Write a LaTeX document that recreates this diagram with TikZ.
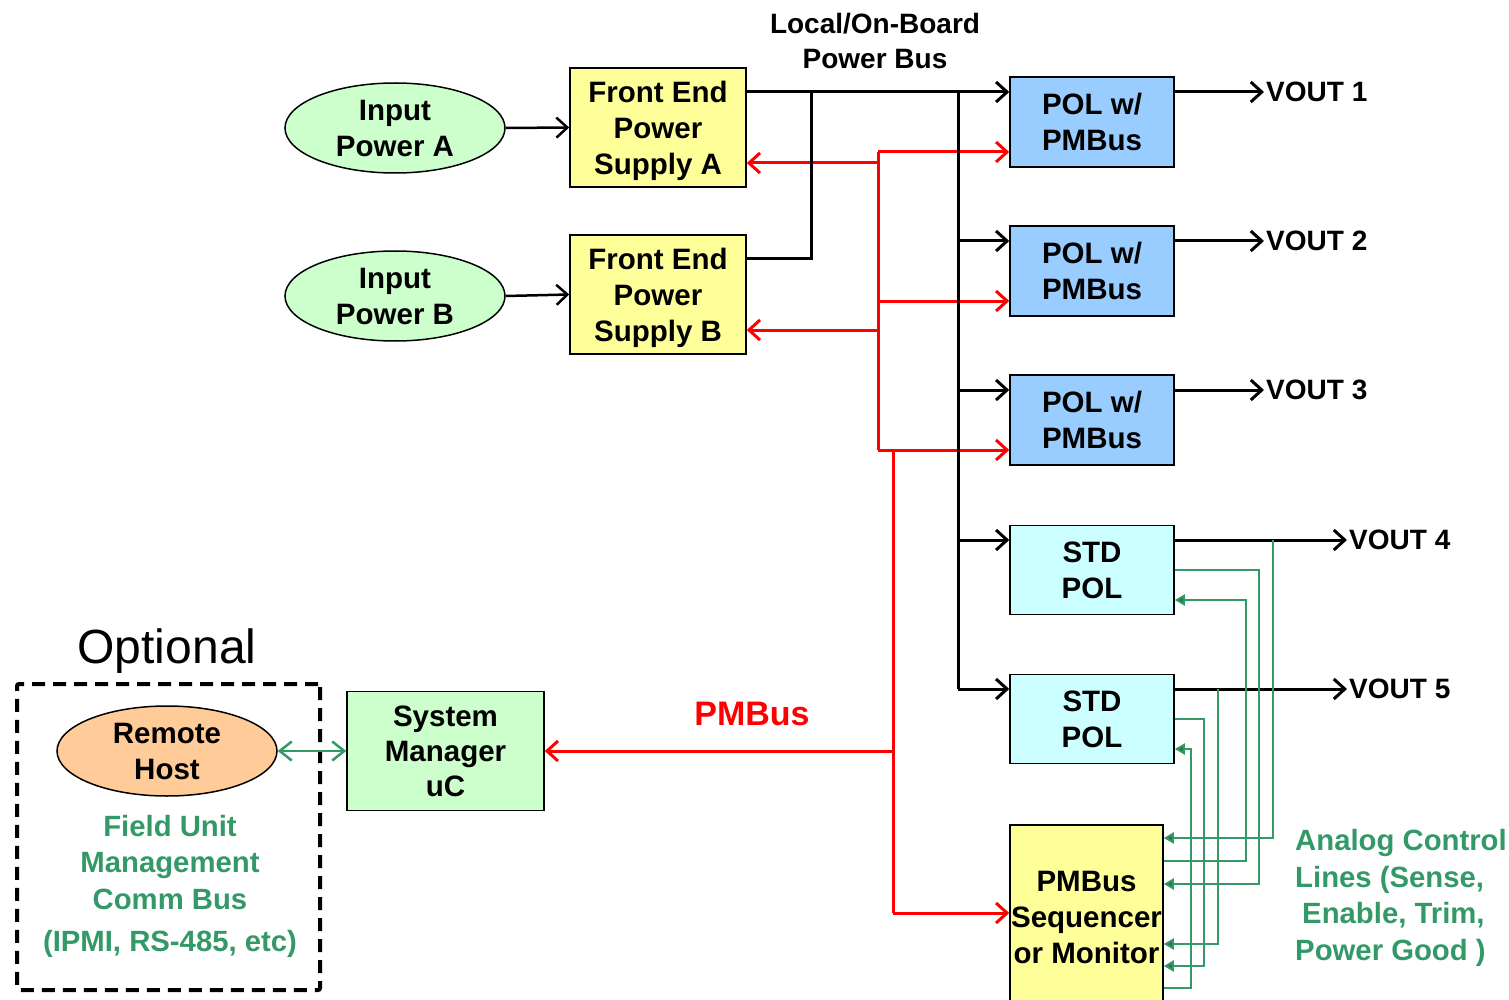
\documentclass[tikz,border=0pt]{standalone}
\usepackage{fontspec}
\setmainfont{Liberation Sans}
\usetikzlibrary{arrows.meta,shapes.geometric}
\definecolor{lgreen}{HTML}{CCFFCC}
\definecolor{lyellow}{HTML}{FFFF99}
\definecolor{lblue}{HTML}{99CCFF}
\definecolor{lcyan}{HTML}{CCFFFF}
\definecolor{lorange}{HTML}{FFCC99}
\definecolor{gline}{HTML}{339966}
\begin{document}
\begin{tikzpicture}[x=1pt,y=-1pt,
  box/.style={draw=black, line width=1.5pt, align=center, inner sep=0pt,
    font=\bfseries\fontsize{29.5}{36}\selectfont},
  ell/.style={box, ellipse, inner sep=-4pt},
  lbl/.style={align=center, inner sep=2pt, font=\bfseries\fontsize{28}{36}\selectfont},
  glbl/.style={lbl, text=gline, font=\bfseries\fontsize{29.3}{36.5}\selectfont},
  blk/.style={line width=3pt, black},
  rd/.style={line width=3pt, red},
  arr/.style={-{Straight Barb[length=11pt,width=20pt]}},
  gr/.style={line width=2pt, gline},
  garr/.style={-{Triangle[length=10pt,width=11pt,fill=gline!75!black]}},
]
\useasboundingbox (0,0) rectangle (1509,1000);

% nodes
\node[ell, fill=lgreen, minimum width=220pt, minimum height=90pt] (inA) at (395,128) {Input\\Power A};
\node[ell, fill=lgreen, minimum width=220pt, minimum height=90pt] (inB) at (395,296) {Input\\Power B};
\node[box, fill=lyellow, minimum width=176pt, minimum height=119pt, text depth=0pt] (feA) at (658,127.5) {Front End\\Power\\Supply A};
\node[box, fill=lyellow, minimum width=176pt, minimum height=119pt, text depth=0pt] (feB) at (658,294.5) {Front End\\Power\\Supply B};
\node[box, fill=lblue, minimum width=164pt, minimum height=90pt] (pol1) at (1092,122) {POL w/\\PMBus};
\node[box, fill=lblue, minimum width=164pt, minimum height=90pt] (pol2) at (1092,271) {POL w/\\PMBus};
\node[box, fill=lblue, minimum width=164pt, minimum height=90pt] (pol3) at (1092,420) {POL w/\\PMBus};
\node[box, fill=lcyan, minimum width=164pt, minimum height=89pt] (std1) at (1092,570) {STD\\POL};
\node[box, fill=lcyan, minimum width=164pt, minimum height=89pt] (std2) at (1092,719) {STD\\POL};
\node[box, fill=lyellow, minimum width=153pt, minimum height=184pt] (seq) at (1086.5,917) {PMBus\\Sequencer\\or Monitor};
\node[box, fill=lgreen, minimum width=197pt, minimum height=119pt, font=\bfseries\fontsize{29.5}{35}\selectfont] (sysm) at (445.5,751) {System\\Manager\\uC};
\node[draw=black, line width=4pt, dash pattern=on 13pt off 8pt, rounded corners=2pt,
  minimum width=303pt, minimum height=306pt, inner sep=0pt] (opt) at (168.5,837) {};
\node[ell, fill=lorange, minimum width=220pt, minimum height=90pt] (host) at (167,751) {Remote\\Host};

% labels
\node[lbl, font=\bfseries\fontsize{28}{35}\selectfont] (busl) at (875,41) {Local/On-Board\\Power Bus};
\node[lbl, text=red, font=\bfseries\fontsize{34}{36}\selectfont] (pmbl) at (752,714) {PMBus};
\node[lbl, font=\fontsize{48}{50}\selectfont] (optl) at (167,651) {Optional};
\node[glbl] (fieldl) at (170,886) {Field Unit\\Management\\Comm Bus\\[5.5pt](IPMI, RS-485, etc)};
\node[glbl, anchor=west, align=left] (anal) at (1293,898) {Analog Control\\Lines (Sense,\\\hspace*{7pt}Enable, Trim,\\Power Good )};
\node[lbl, anchor=west] (v1) at (1264,92) {VOUT 1};
\node[lbl, anchor=west] (v2) at (1264,241) {VOUT 2};
\node[lbl, anchor=west] (v3) at (1264,390) {VOUT 3};
\node[lbl, anchor=west] (v4) at (1347,540) {VOUT 4};
\node[lbl, anchor=west] (v5) at (1347,689) {VOUT 5};

% anchor coordinates
\coordinate (feAo) at ([yshift=35.5pt]feA.east);
\coordinate (feAi) at ([yshift=-35.5pt]feA.east);
\coordinate (feBo) at ([yshift=35.5pt]feB.east);
\coordinate (feBi) at ([yshift=-35.5pt]feB.east);
\foreach \n in {1,2,3}{
  \coordinate (p\n b) at ([yshift=30pt]pol\n.west);
  \coordinate (p\n r) at ([yshift=-30pt]pol\n.west);
  \coordinate (p\n o) at ([yshift=30pt]pol\n.east);
}
\foreach \n in {1,2}{
  \coordinate (s\n b) at ([yshift=30pt]std\n.west);
  \coordinate (s\n o) at ([yshift=30pt]std\n.east);
  \coordinate (s\n g) at ([yshift=-30pt]std\n.east);
}
\coordinate (q1) at ([yshift=79pt]seq.east);
\coordinate (q2) at ([yshift=56pt]seq.east);
\coordinate (q3) at ([yshift=33pt]seq.east);
\coordinate (q4) at ([yshift=-27pt]seq.east);
\coordinate (q5) at ([yshift=-49pt]seq.east);
\coordinate (q6) at ([yshift=-71pt]seq.east);
\coordinate (seqin) at ([yshift=4pt]seq.west);
\coordinate (mx) at (811,0);
\coordinate (bx) at (958,0);
\coordinate (rx) at (878,0);
\coordinate (qx) at (893,0);
\coordinate (g1) at (1273,0);
\coordinate (g2) at (1259,0);
\coordinate (g3) at (1246,0);
\coordinate (g4) at (1218,0);
\coordinate (g5) at (1204,0);
\coordinate (g6) at (1191,0);

% input arrows
\draw[blk, line width=2.5pt, arr] (inA.east) -- (feA.west);
\draw[blk, line width=2.5pt, arr] (inB.east) -- (feB.west);

% red PMBus
\draw[rd] (rx |- p1r) -- (rx |- p3r);
\foreach \n in {1,2,3}{ \draw[rd,arr] (rx |- p\n r) -- (p\n r); }
\draw[rd,arr] (rx |- feAi) -- (feAi);
\draw[rd,arr] (rx |- feBi) -- (feBi);
\draw[rd] (qx |- p3r) -- (qx |- seqin);
\draw[rd,arr] (qx |- sysm.east) -- (sysm.east);
\draw[rd,arr] (qx |- seqin) -- (seqin);

% black power bus
\draw[blk,arr] (feAo) -- (p1b);
\draw[blk] (feBo) -- (mx |- feBo) -- (mx |- feAo);
\draw[blk] (bx |- p1b) -- (bx |- s2b);
\foreach \c in {p2b,p3b,s1b,s2b}{ \draw[blk,arr] (bx |- \c) -- (\c); }
\draw[blk,arr] (p1o) -- (v1.west);
\draw[blk,arr] (p2o) -- (v2.west);
\draw[blk,arr] (p3o) -- (v3.west);
\draw[blk,arr] (s1o) -- (v4.west);
\draw[blk,arr] (s2o) -- (v5.west);

% green analog lines
\draw[gr,garr] (g1 |- s1o) -- (g1 |- q1) -- (q1);
\draw[gr,garr] (std1.east) -- (g2 |- std1.east) -- (g2 |- q3) -- (q3);
\draw[gr,garr] (q2) -- (g3 |- q2) -- (g3 |- s1g) -- (s1g);
\draw[gr,garr] (g4 |- s2o) -- (g4 |- q4) -- (q4);
\draw[gr,garr] (std2.east) -- (g5 |- std2.east) -- (g5 |- q5) -- (q5);
\draw[gr,garr] (q6) -- (g6 |- q6) -- (g6 |- s2g) -- (s2g);

% comm bus
\draw[gr, line width=2.5pt, {Straight Barb[length=12pt,width=19pt]}-{Straight Barb[length=12pt,width=19pt]}] (host.east) -- (sysm.west);
\end{tikzpicture}
\end{document}
